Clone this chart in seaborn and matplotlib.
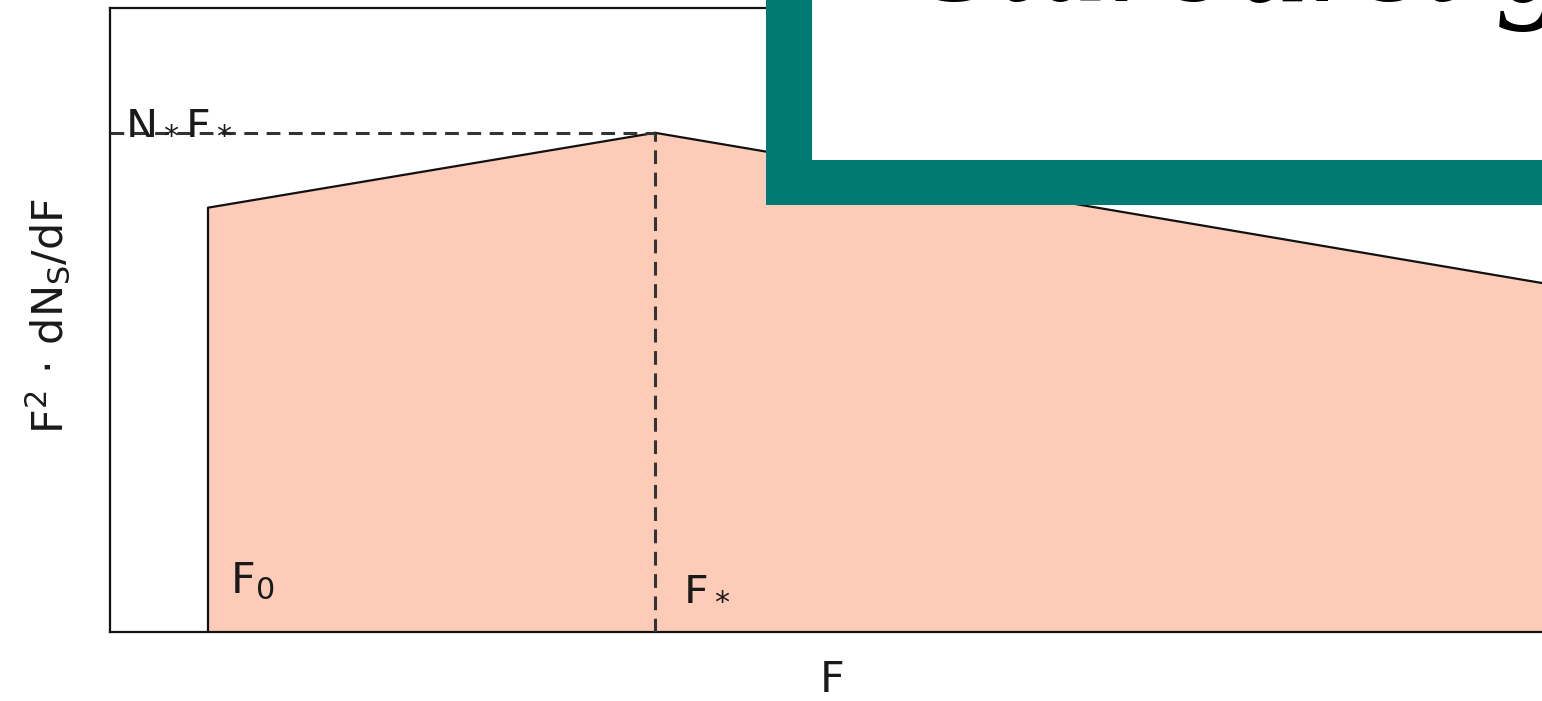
import matplotlib
matplotlib.use("Agg")
import matplotlib.pyplot as plt
from matplotlib.patches import Rectangle
from matplotlib.transforms import IdentityTransform
import pandas as pd
import seaborn as sns

# Schematic source-count model: F^2 dN/dF versus flux F
flux_break = 5.45          # F*
flux_min = 0.98            # F0
flux_max = 14.44           # right end of the plotted range
flux_knots = [flux_min, flux_break, flux_max]
count_knots = [0.68, 0.80, 0.556]
peak_level = 0.80          # N* F*

x_label = "F"
y_label = r"F$^{2}\,\cdot\,$dN$_\mathrm{S}$/dF"
label_f0 = r"F$_0$"
label_fstar = r"F$_*$"
label_nf = r"N$_*$F$_*$"
banner_text = "Starburst galaxies"

sns.set_theme(style="white")
plt.rcParams["font.family"] = ["DejaVu Sans"]
plt.rcParams["mathtext.fontset"] = "dejavusans"

W, H, DPI = 1542, 701, 100
fig = plt.figure(figsize=(W / DPI, H / DPI), dpi=DPI)
ax = fig.add_axes([110 / W, (H - 632) / H, 1444 / W, 624 / H])

outline = pd.DataFrame({
    "F": [flux_min] + flux_knots,
    "S": [0.0] + count_knots,
})

fill_color = "#fdccb9"
ax.fill_between(flux_knots, 0, count_knots, color=fill_color, lw=0, zorder=1)
sns.lineplot(data=outline, x="F", y="S", sort=False, estimator=None,
             color="#111111", linewidth=1.6, ax=ax, zorder=3)

dash_kw = dict(color="#333333", linewidth=2.2, dashes=(4.5, 2.8), zorder=4)
ax.plot([0, flux_break], [peak_level, peak_level], **dash_kw)
ax.plot([flux_break, flux_break], [0, peak_level], **dash_kw)

ax.set_xlim(0, flux_max)
ax.set_ylim(0, 1)
ax.set_xticks([])
ax.set_yticks([])
for side in ["left", "bottom", "top", "right"]:
    ax.spines[side].set_color("#111111")
    ax.spines[side].set_linewidth(1.6)

fs = 31
txt_color = "#1a1a1a"
ax.text(0.15, peak_level - 0.002, label_nf, fontsize=fs, color=txt_color,
        ha="left", va="baseline", zorder=5)
ax.text(flux_min + 0.22, 0.062, label_f0, fontsize=fs, color=txt_color,
        ha="left", va="baseline", zorder=5)
ax.text(flux_break + 0.28, 0.052, label_fstar, fontsize=fs, color=txt_color,
        ha="left", va="baseline", zorder=5)

ax.set_xlabel(x_label, fontsize=fs, color=txt_color)
ax.set_ylabel(y_label, fontsize=fs, color=txt_color)
ax.xaxis.set_label_coords(0.5, -(680 - 632) / 624)
ax.xaxis.label.set_va("center")
ax.yaxis.set_label_coords((48 - 110) / 1444, (632 - 316) / 624)
ax.yaxis.label.set_va("center")

# Title frame overlapping the upper right of the plot
ident = IdentityTransform()
teal = Rectangle((766, H - 205), 2000, 1000, transform=ident,
                 facecolor="#007a73", edgecolor="none", zorder=10)
inner = Rectangle((812, H - 160), 2000, 1000, transform=ident,
                  facecolor="white", edgecolor="none", zorder=11)
fig.patches.extend([teal, inner])
fig.text(925 / W, (H - 1) / H, banner_text, fontsize=104,
         family="Liberation Serif", style="italic", color="black",
         ha="left", va="baseline", zorder=12)

fig.savefig("out.png", dpi=DPI)
